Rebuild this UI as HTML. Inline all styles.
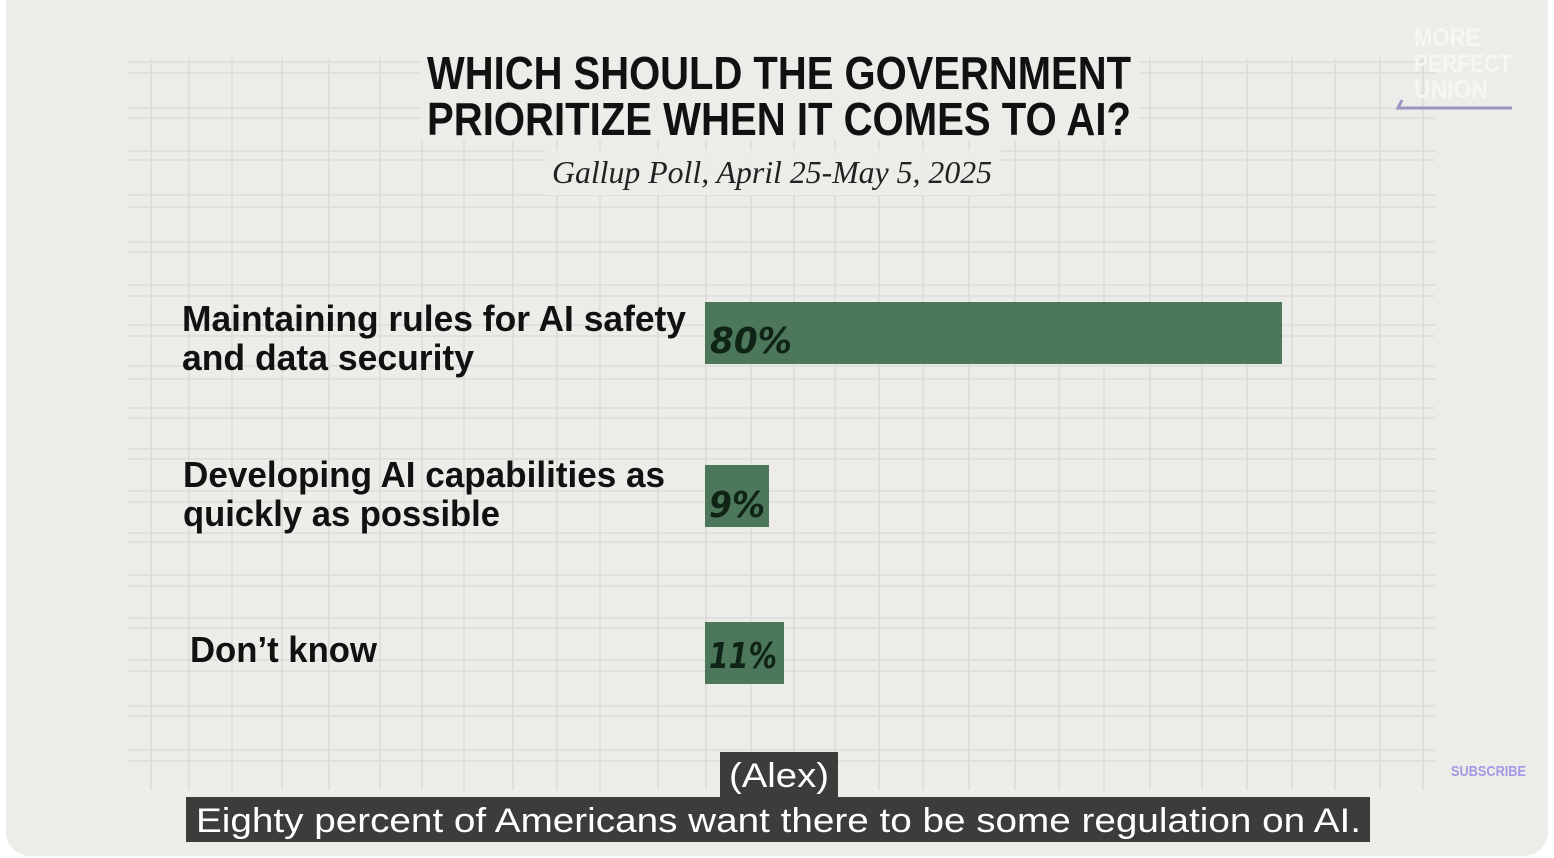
<!DOCTYPE html>
<html><head><meta charset="utf-8"><style>
html,body{margin:0;padding:0;background:#fff;}
body{width:1554px;height:858px;overflow:hidden;position:relative;}
</style></head><body>
<svg width="1554" height="858" viewBox="0 0 1554 858" xmlns="http://www.w3.org/2000/svg" style="position:absolute;left:0;top:0">
<rect x="6" y="-30" width="1542" height="886" rx="24" fill="#edece9"/>
<g stroke="#dddcd9" stroke-width="1.6" fill="none">
<g id="h">
<line x1="128" y1="62" x2="1435" y2="62"/><line x1="128" y1="73" x2="1435" y2="73"/>
<line x1="128" y1="108" x2="1435" y2="108"/><line x1="128" y1="118" x2="1435" y2="118"/>
<line x1="128" y1="151" x2="1435" y2="151"/><line x1="128" y1="160" x2="1435" y2="160"/>
<line x1="128" y1="195" x2="1435" y2="195"/><line x1="128" y1="207" x2="1435" y2="207"/>
<line x1="128" y1="242" x2="1435" y2="242"/><line x1="128" y1="252" x2="1435" y2="252"/>
<line x1="128" y1="285" x2="1435" y2="285"/><line x1="128" y1="296" x2="1435" y2="296"/>
<line x1="128" y1="325" x2="1435" y2="325"/><line x1="128" y1="336" x2="1435" y2="336"/>
<line x1="128" y1="366" x2="1435" y2="366"/><line x1="128" y1="379" x2="1435" y2="379"/>
<line x1="128" y1="408" x2="1435" y2="408"/><line x1="128" y1="418" x2="1435" y2="418"/>
<line x1="128" y1="449" x2="1435" y2="449"/><line x1="128" y1="459" x2="1435" y2="459"/>
<line x1="128" y1="491" x2="1435" y2="491"/><line x1="128" y1="502" x2="1435" y2="502"/>
<line x1="128" y1="533" x2="1435" y2="533"/><line x1="128" y1="542" x2="1435" y2="542"/>
<line x1="128" y1="575" x2="1435" y2="575"/><line x1="128" y1="586" x2="1435" y2="586"/>
<line x1="128" y1="618" x2="1435" y2="618"/><line x1="128" y1="628" x2="1435" y2="628"/>
<line x1="128" y1="660" x2="1435" y2="660"/><line x1="128" y1="671" x2="1435" y2="671"/>
<line x1="128" y1="706" x2="1435" y2="706"/><line x1="128" y1="716" x2="1435" y2="716"/>
<line x1="128" y1="750" x2="1435" y2="750"/><line x1="128" y1="761" x2="1435" y2="761"/>
</g>
<g>
<line x1="151" y1="58" x2="151" y2="790"/><line x1="189" y1="58" x2="189" y2="790"/>
<line x1="232" y1="58" x2="232" y2="790"/><line x1="282" y1="58" x2="282" y2="790"/>
<line x1="329" y1="58" x2="329" y2="790"/><line x1="380" y1="58" x2="380" y2="790"/>
<line x1="422" y1="58" x2="422" y2="790"/><line x1="464" y1="58" x2="464" y2="790"/>
<line x1="513" y1="58" x2="513" y2="790"/><line x1="557" y1="58" x2="557" y2="790"/>
<line x1="600" y1="58" x2="600" y2="790"/><line x1="658" y1="58" x2="658" y2="790"/>
<line x1="706" y1="58" x2="706" y2="790"/><line x1="751" y1="58" x2="751" y2="790"/>
<line x1="794" y1="58" x2="794" y2="790"/><line x1="835" y1="58" x2="835" y2="790"/>
<line x1="879" y1="58" x2="879" y2="790"/><line x1="923" y1="58" x2="923" y2="790"/>
<line x1="969" y1="58" x2="969" y2="790"/><line x1="1015" y1="58" x2="1015" y2="790"/>
<line x1="1059" y1="58" x2="1059" y2="790"/><line x1="1104" y1="58" x2="1104" y2="790"/>
<line x1="1150" y1="58" x2="1150" y2="790"/><line x1="1202" y1="58" x2="1202" y2="790"/>
<line x1="1247" y1="58" x2="1247" y2="790"/><line x1="1292" y1="58" x2="1292" y2="790"/>
<line x1="1335" y1="58" x2="1335" y2="790"/><line x1="1380" y1="58" x2="1380" y2="790"/>
<line x1="1423" y1="58" x2="1423" y2="790"/>
</g>
</g>
<rect x="420" y="40" width="720" height="100" fill="#edece9"/>
<rect x="545" y="150" width="455" height="45" fill="#edece9" opacity="0.9"/>
<g font-family="Liberation Sans, sans-serif" font-weight="bold" fill="#111">
<text x="427" y="89" font-size="46" textLength="704" lengthAdjust="spacingAndGlyphs">WHICH SHOULD THE GOVERNMENT</text>
<text x="427" y="135" font-size="46" textLength="704" lengthAdjust="spacingAndGlyphs">PRIORITIZE WHEN IT COMES TO AI?</text>
</g>
<text x="552" y="183" font-family="Liberation Serif, serif" font-style="italic" font-size="32" fill="#222" textLength="440" lengthAdjust="spacingAndGlyphs">Gallup Poll, April 25-May 5, 2025</text>
<g font-family="Liberation Sans, sans-serif" font-weight="bold" fill="#111" font-size="36">
<text x="182" y="331" textLength="504" lengthAdjust="spacingAndGlyphs">Maintaining rules for AI safety</text>
<text x="182" y="370" textLength="292" lengthAdjust="spacingAndGlyphs">and data security</text>
<text x="183" y="487" textLength="482" lengthAdjust="spacingAndGlyphs">Developing AI capabilities as</text>
<text x="183" y="526" textLength="317" lengthAdjust="spacingAndGlyphs">quickly as possible</text>
<text x="190" y="662" textLength="187" lengthAdjust="spacingAndGlyphs">Don’t know</text>
</g>
<rect x="705" y="302" width="577" height="62" fill="#4d775b"/>
<rect x="705" y="465" width="64" height="62" fill="#4d775b"/>
<rect x="705" y="622" width="79" height="62" fill="#4d775b"/>
<g font-family="DejaVu Sans, sans-serif" font-weight="bold" font-style="italic" fill="#0f2416" font-size="36">
<text x="710" y="353" textLength="82" lengthAdjust="spacingAndGlyphs">80%</text>
<text x="709" y="517" textLength="56" lengthAdjust="spacingAndGlyphs">9%</text>
<text x="709" y="668" textLength="68" lengthAdjust="spacingAndGlyphs">11%</text>
</g>
<g font-family="Liberation Sans, sans-serif" font-weight="bold" fill="#f6f6f4" font-size="25">
<text x="1414" y="46" textLength="66" lengthAdjust="spacingAndGlyphs">MORE</text>
<text x="1414" y="72" textLength="98" lengthAdjust="spacingAndGlyphs">PERFECT</text>
<text x="1414" y="98" textLength="74" lengthAdjust="spacingAndGlyphs">UNION</text>
</g>
<path d="M1402 100 L1398 108 L1512 108" stroke="#9b95c0" stroke-width="3" fill="none"/>
<text x="1451" y="776" font-family="Liberation Sans, sans-serif" font-weight="bold" font-size="15" fill="#a497e6" textLength="75" lengthAdjust="spacingAndGlyphs">SUBSCRIBE</text>
<rect x="720" y="752" width="118" height="45" fill="#3d3c3b"/>
<rect x="186" y="797" width="1184" height="45" fill="#3d3c3b"/>
<g font-family="Liberation Sans, sans-serif" fill="#fff" font-size="34">
<text x="729" y="787" textLength="100" lengthAdjust="spacingAndGlyphs">(Alex)</text>
<text x="196" y="832" textLength="1165" lengthAdjust="spacingAndGlyphs">Eighty percent of Americans want there to be some regulation on AI.</text>
</g>
</svg>
</body></html>
